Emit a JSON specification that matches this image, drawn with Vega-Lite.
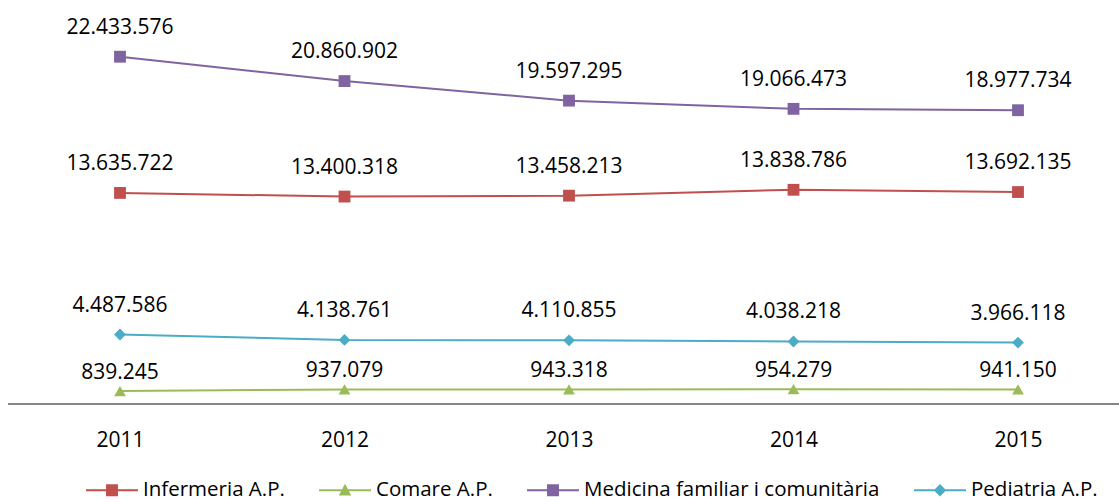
{
  "$schema": "https://vega.github.io/schema/vega-lite/v6.json",
  "width": 1111,
  "height": 387,
  "autosize": {"type": "none"},
  "padding": {"left": 8, "top": 17, "right": 0, "bottom": 99},
  "config": {
    "view": {"stroke": null},
    "font": "Open Sans",
    "locale": {"number": {"decimal": ",", "thousands": ".", "grouping": [3], "currency": ["", " €"]}}
  },
  "data": {
    "values": [
      {"series": "Infermeria A.P.", "year": "2011", "value": 13635722},
      {"series": "Infermeria A.P.", "year": "2012", "value": 13400318},
      {"series": "Infermeria A.P.", "year": "2013", "value": 13458213},
      {"series": "Infermeria A.P.", "year": "2014", "value": 13838786},
      {"series": "Infermeria A.P.", "year": "2015", "value": 13692135},
      {"series": "Comare A.P.", "year": "2011", "value": 839245},
      {"series": "Comare A.P.", "year": "2012", "value": 937079},
      {"series": "Comare A.P.", "year": "2013", "value": 943318},
      {"series": "Comare A.P.", "year": "2014", "value": 954279},
      {"series": "Comare A.P.", "year": "2015", "value": 941150},
      {"series": "Medicina familiar i comunitària", "year": "2011", "value": 22433576},
      {"series": "Medicina familiar i comunitària", "year": "2012", "value": 20860902},
      {"series": "Medicina familiar i comunitària", "year": "2013", "value": 19597295},
      {"series": "Medicina familiar i comunitària", "year": "2014", "value": 19066473},
      {"series": "Medicina familiar i comunitària", "year": "2015", "value": 18977734},
      {"series": "Pediatria A.P.", "year": "2011", "value": 4487586},
      {"series": "Pediatria A.P.", "year": "2012", "value": 4138761},
      {"series": "Pediatria A.P.", "year": "2013", "value": 4110855},
      {"series": "Pediatria A.P.", "year": "2014", "value": 4038218},
      {"series": "Pediatria A.P.", "year": "2015", "value": 3966118}
    ]
  },
  "layer": [
    {
      "mark": {"type": "rule", "color": "#868686", "strokeWidth": 2},
      "encoding": {"y": {"datum": 0, "type": "quantitative", "scale": {"domain": [0, 25000000], "nice": false, "zero": true}, "axis": null}}
    },
    {
      "mark": {"type": "line", "strokeWidth": 2},
      "encoding": {
        "x": {"field": "year", "type": "ordinal", "scale": {"type": "point", "range": [112, 1010], "padding": 0},
          "axis": {"title": null, "domain": false, "ticks": false, "tickSize": 0, "grid": false, "labelAngle": 0,
            "labelFontSize": 21, "labelColor": "#000000", "labelBaseline": "alphabetic", "labelPadding": 42}},
        "y": {"field": "value", "type": "quantitative", "scale": {"domain": [0, 25000000], "nice": false}, "axis": null},
        "color": {"field": "series", "type": "nominal",
          "scale": {"domain": ["Infermeria A.P.", "Comare A.P.", "Medicina familiar i comunitària", "Pediatria A.P."],
            "range": ["#C0504D", "#9BBB59", "#8064A2", "#4BACC6"]},
          "legend": {"title": null, "orient": "none", "direction": "horizontal", "legendX": 78, "legendY": 447,
            "symbolSize": 2704, "labelFontSize": 20.5, "labelColor": "#000000", "labelOffset": 5, "columnPadding": 34,
            "labelLimit": 500,
            "encode": {"symbols": {"update": {
              "fill": {"scale": "color", "field": "value"},
              "stroke": {"value": "transparent"},
              "strokeWidth": {"value": 0},
              "opacity": {"value": 1},
              "fillOpacity": {"value": 1},
              "size": {"value": 2704},
              "shape": {"signal": "datum.value === 'Comare A.P.' ? 'M-1,-0.038H1V0.038H-1ZM0,-0.25L0.24,0.2H-0.24Z' : datum.value === 'Pediatria A.P.' ? 'M-1,-0.038H1V0.038H-1ZM0,-0.24L0.24,0L0,0.24L-0.24,0Z' : 'M-1,-0.038H1V0.038H-1ZM-0.23,-0.23H0.23V0.23H-0.23Z'"}
            }}}}}
      }
    },
    {
      "mark": {"type": "point", "filled": true, "opacity": 1, "size": 140},
      "encoding": {
        "x": {"field": "year", "type": "ordinal"},
        "y": {"field": "value", "type": "quantitative"},
        "color": {"field": "series", "type": "nominal", "legend": null},
        "shape": {
          "condition": [
            {"test": "datum.series === 'Comare A.P.'", "value": "triangle-up"},
            {"test": "datum.series === 'Pediatria A.P.'", "value": "diamond"}
          ],
          "value": "square"
        }
      }
    },
    {
      "transform": [{"filter": "datum.series !== 'Comare A.P.'"}],
      "mark": {"type": "text", "fontSize": 21, "color": "#000000", "baseline": "alphabetic", "dy": -23},
      "encoding": {
        "x": {"field": "year", "type": "ordinal"},
        "y": {"field": "value", "type": "quantitative"},
        "text": {"field": "value", "type": "quantitative", "format": ",d"}
      }
    },
    {
      "transform": [{"filter": "datum.series === 'Comare A.P.'"}],
      "mark": {"type": "text", "fontSize": 21, "color": "#000000", "baseline": "alphabetic", "dy": -12},
      "encoding": {
        "x": {"field": "year", "type": "ordinal"},
        "y": {"field": "value", "type": "quantitative"},
        "text": {"field": "value", "type": "quantitative", "format": ",d"}
      }
    }
  ]
}
